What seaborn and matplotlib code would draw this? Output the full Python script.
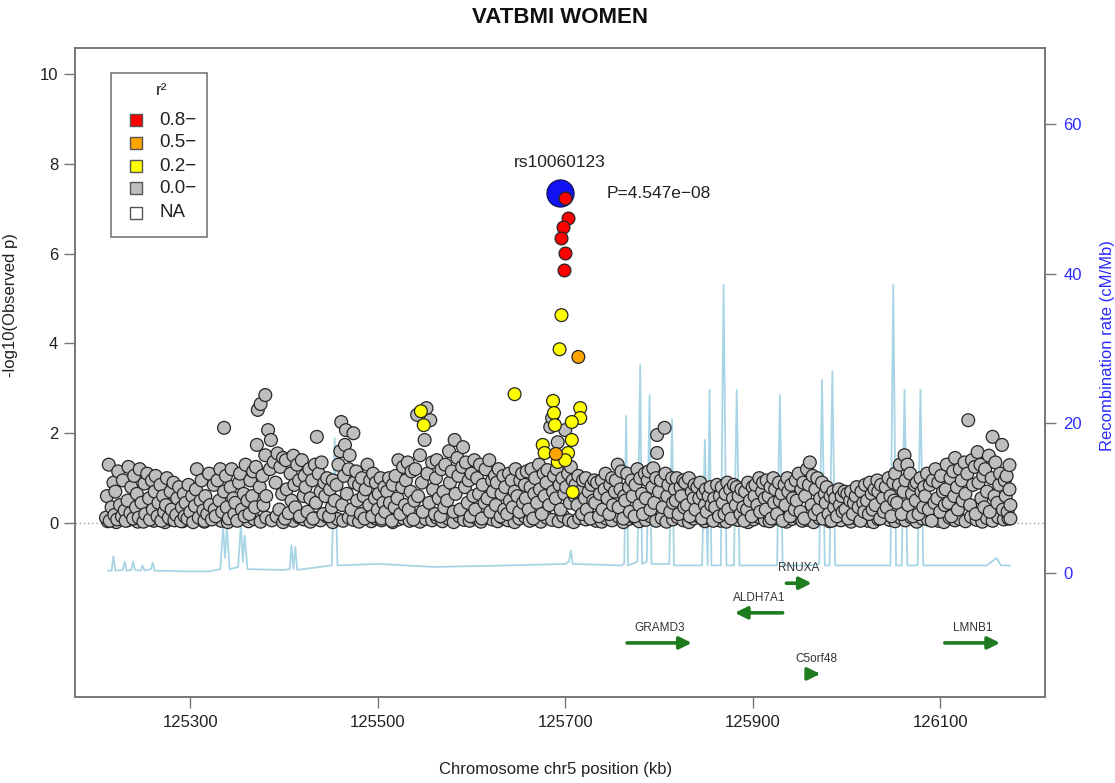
import numpy as np
import pandas as pd
import seaborn as sns
import matplotlib
matplotlib.use("Agg")
import matplotlib.pyplot as plt
from matplotlib.patches import Rectangle

sns.set_theme(style="white")
plt.rcParams["font.family"] = ["Liberation Sans", "DejaVu Sans"]

# ---------------- data ----------------
title = "VATBMI WOMEN"
lead_snp = "rs10060123"
lead_kb = 125694
lead_logp = 7.342
lead_p_text = "P=4.547e\u221208"

red_kb = [125700, 125703, 125698, 125695, 125700, 125699]
red_logp = [7.24, 6.79, 6.59, 6.35, 6.01, 5.63]

orange_kb = [125714, 125690]
orange_logp = [3.70, 1.54]

yellow_kb = [125696, 125694, 125646, 125687, 125716, 125688, 125716, 125707, 125689,
             125707, 125676, 125678, 125703, 125692, 125700, 125708, 125546, 125549]
yellow_logp = [4.63, 3.87, 2.87, 2.72, 2.56, 2.45, 2.34, 2.25, 2.18,
               1.85, 1.74, 1.56, 1.56, 1.36, 1.40, 0.69, 2.49, 2.18]

gray_kb = [
    125210, 125211, 125213, 125214, 125216, 125218, 125219,
    125220, 125222, 125223, 125225, 125227, 125228, 125230,
    125231, 125233, 125234, 125236, 125237, 125239, 125240,
    125242, 125243, 125245, 125246, 125248, 125250, 125251,
    125252, 125254, 125256, 125257, 125259, 125260, 125262,
    125263, 125265, 125266, 125268, 125269, 125271, 125272,
    125274, 125275, 125277, 125279, 125280, 125282, 125283,
    125285, 125286, 125288, 125290, 125291, 125293, 125294,
    125295, 125297, 125298, 125300, 125302, 125303, 125305,
    125306, 125307, 125309, 125311, 125312, 125314, 125315,
    125316, 125318, 125320, 125321, 125323, 125325, 125326,
    125327, 125329, 125331, 125332, 125334, 125336, 125336,
    125338, 125339, 125341, 125343, 125344, 125346, 125347,
    125348, 125350, 125352, 125353, 125355, 125357, 125358,
    125359, 125361, 125363, 125364, 125366, 125367, 125369,
    125370, 125371, 125372, 125374, 125375, 125377, 125378,
    125380, 125380, 125381, 125383, 125385, 125386, 125389,
    125391, 125393, 125395, 125396, 125398, 125399, 125401,
    125402, 125403, 125405, 125407, 125408, 125410, 125411,
    125412, 125414, 125416, 125417, 125419, 125421, 125422,
    125423, 125425, 125427, 125428, 125430, 125431, 125433,
    125434, 125435, 125437, 125439, 125440, 125442, 125443,
    125444, 125446, 125448, 125449, 125451, 125452, 125454,
    125456, 125458, 125460, 125461, 125462, 125464, 125465,
    125466, 125467, 125469, 125470, 125472, 125474, 125475,
    125477, 125478, 125480, 125482, 125483, 125485, 125486,
    125487, 125489, 125491, 125492, 125494, 125495, 125497,
    125498, 125500, 125501, 125503, 125504, 125506, 125507,
    125508, 125510, 125512, 125513, 125515, 125516, 125518,
    125519, 125521, 125522, 125524, 125526, 125527, 125529,
    125530, 125532, 125533, 125535, 125536, 125538, 125539,
    125540, 125542, 125543, 125545, 125547, 125548, 125550,
    125552, 125553, 125555, 125556, 125558, 125559, 125561,
    125562, 125563, 125565, 125567, 125568, 125570, 125571,
    125572, 125574, 125576, 125577, 125579, 125581, 125582,
    125583, 125585, 125586, 125588, 125590, 125591, 125593,
    125594, 125596, 125597, 125599, 125600, 125602, 125603,
    125604, 125606, 125608, 125609, 125611, 125612, 125614,
    125615, 125617, 125619, 125620, 125622, 125623, 125625,
    125626, 125627, 125629, 125631, 125632, 125634, 125635,
    125636, 125638, 125640, 125641, 125643, 125644, 125646,
    125647, 125649, 125651, 125652, 125654, 125655, 125657,
    125658, 125659, 125661, 125663, 125664, 125666, 125667,
    125668, 125670, 125672, 125673, 125675, 125677, 125678,
    125680, 125681, 125683, 125684, 125686, 125687, 125688,
    125690, 125691, 125692, 125694, 125695, 125697, 125699,
    125700, 125701, 125703, 125705, 125706, 125708, 125710,
    125711, 125713, 125714, 125716, 125718, 125719, 125721,
    125722, 125723, 125725, 125727, 125728, 125730, 125731,
    125732, 125734, 125736, 125737, 125739, 125740, 125742,
    125743, 125745, 125747, 125748, 125750, 125751, 125753,
    125754, 125756, 125757, 125759, 125760, 125762, 125763,
    125764, 125766, 125768, 125769, 125771, 125772, 125774,
    125775, 125777, 125779, 125780, 125782, 125783, 125785,
    125786, 125788, 125789, 125791, 125793, 125794, 125795,
    125797, 125798, 125798, 125800, 125802, 125804, 125806,
    125807, 125809, 125810, 125812, 125814, 125815, 125817,
    125818, 125819, 125821, 125823, 125824, 125826, 125827,
    125828, 125830, 125832, 125833, 125835, 125837, 125838,
    125839, 125841, 125843, 125844, 125846, 125847, 125849,
    125850, 125851, 125853, 125855, 125856, 125858, 125859,
    125860, 125862, 125864, 125865, 125867, 125868, 125870,
    125871, 125873, 125874, 125876, 125877, 125879, 125880,
    125882, 125883, 125885, 125887, 125888, 125890, 125891,
    125892, 125894, 125895, 125897, 125899, 125900, 125902,
    125903, 125905, 125907, 125908, 125910, 125911, 125913,
    125914, 125915, 125917, 125919, 125920, 125922, 125923,
    125924, 125926, 125928, 125929, 125931, 125932, 125934,
    125935, 125937, 125938, 125940, 125941, 125943, 125945,
    125946, 125947, 125949, 125951, 125952, 125954, 125955,
    125956, 125958, 125960, 125961, 125963, 125964, 125966,
    125967, 125969, 125970, 125972, 125974, 125975, 125977,
    125978, 125979, 125981, 125983, 125984, 125986, 125987,
    125988, 125990, 125992, 125993, 125995, 125996, 125998,
    125999, 126001, 126002, 126004, 126005, 126007, 126008,
    126010, 126011, 126013, 126015, 126016, 126018, 126019,
    126020, 126022, 126024, 126025, 126027, 126028, 126030,
    126031, 126033, 126034, 126036, 126037, 126039, 126040,
    126042, 126043, 126045, 126047, 126048, 126050, 126051,
    126052, 126054, 126056, 126057, 126059, 126061, 126062,
    126063, 126065, 126066, 126068, 126070, 126071, 126073,
    126074, 126075, 126077, 126079, 126080, 126082, 126083,
    126084, 126086, 126088, 126089, 126091, 126092, 126094,
    126095, 126097, 126098, 126100, 126101, 126103, 126105,
    126106, 126107, 126109, 126111, 126112, 126114, 126115,
    126116, 126118, 126119, 126121, 126123, 126124, 126126,
    126127, 126129, 126130, 126132, 126134, 126135, 126137,
    126138, 126140, 126141, 126143, 126144, 126146, 126147,
    126148, 126150, 126152, 126153, 126155, 126156, 126158,
    126159, 126161, 126163, 126164, 126166, 126167, 126169,
    126170, 126171, 126172, 126174, 126174, 126175, 126175,
]
gray_logp = [
    0.12, 0.60, 1.30, 0.05, 0.35, 0.90, 0.18,
    0.70, 0.08, 1.15, 0.40, 0.15, 0.95, 0.28,
    0.05, 0.50, 1.25, 0.22, 0.80, 0.10, 1.05,
    0.35, 0.65, 0.12, 1.20, 0.45, 0.03, 0.88,
    0.20, 1.10, 0.55, 0.08, 0.95, 0.30, 0.70,
    1.05, 0.15, 0.45, 0.85, 0.05, 0.60, 0.25,
    0.40, 1.00, 0.12, 0.70, 0.30, 0.90, 0.06,
    0.18, 0.55, 0.80, 0.04, 0.35, 0.65, 0.15,
    0.45, 0.10, 0.85, 0.25, 0.60, 0.02, 0.38,
    0.75, 1.20, 0.12, 0.50, 0.95, 0.28, 0.05,
    0.60, 0.20, 1.10, 0.40, 0.08, 0.85, 0.30,
    0.15, 0.95, 0.50, 1.20, 0.25, 2.12, 0.70,
    1.05, 0.35, 0.10, 0.80, 1.20, 0.55, 0.20,
    0.45, 0.05, 0.90, 1.10, 0.30, 0.65, 0.15,
    1.30, 0.50, 0.20, 0.95, 0.60, 1.15, 0.35,
    1.25, 1.74, 2.52, 0.80, 2.65, 1.05, 0.40,
    2.85, 1.51, 0.60, 2.07, 1.20, 1.85, 1.36,
    0.90, 1.55, 0.30, 1.25, 0.65, 1.45, 0.10,
    1.40, 0.75, 0.22, 1.10, 0.50, 1.50, 0.85,
    0.35, 1.30, 0.95, 0.15, 1.40, 0.60, 1.05,
    0.80, 0.25, 1.20, 0.55, 0.95, 0.10, 1.30,
    0.45, 1.92, 1.10, 0.70, 1.35, 0.20, 0.90,
    0.60, 1.00, 0.15, 0.75, 0.35, 0.95, 0.50,
    0.85, 1.30, 1.60, 2.25, 0.40, 1.05, 1.74,
    2.07, 0.65, 1.20, 1.51, 0.30, 2.00, 0.90,
    1.15, 0.50, 0.85, 0.20, 1.00, 0.60, 0.10,
    0.75, 1.30, 0.40, 0.95, 0.15, 1.10, 0.55,
    0.90, 0.30, 0.65, 1.00, 0.10, 0.45, 0.80,
    0.25, 0.70, 1.00, 0.45, 0.05, 0.85, 0.35,
    1.05, 0.55, 1.40, 0.20, 0.80, 1.25, 0.40,
    0.95, 1.35, 0.30, 0.70, 1.15, 0.08, 0.50,
    1.20, 2.41, 0.60, 1.51, 0.90, 0.25, 1.85,
    2.56, 1.10, 0.45, 2.29, 1.35, 0.75, 0.20,
    1.00, 1.40, 0.55, 0.15, 1.20, 0.70, 0.35,
    1.30, 0.50, 1.60, 0.90, 1.15, 0.25, 1.85,
    0.65, 1.45, 1.05, 0.30, 1.25, 1.69, 0.80,
    1.35, 0.45, 0.95, 0.15, 1.10, 0.60, 1.40,
    0.30, 1.00, 0.65, 1.30, 0.10, 0.85, 0.45,
    1.20, 0.55, 1.40, 0.25, 0.95, 0.70, 1.05,
    0.40, 0.90, 1.20, 0.15, 0.65, 1.05, 0.30,
    0.80, 0.20, 1.10, 0.50, 0.95, 0.35, 0.70,
    1.20, 0.60, 0.25, 0.95, 1.10, 0.45, 0.85,
    0.55, 1.15, 0.30, 0.80, 1.20, 0.10, 0.65,
    1.00, 0.45, 1.30, 0.75, 0.20, 1.10, 0.60,
    0.90, 1.18, 0.40, 2.14, 2.34, 0.70, 1.05,
    0.55, 1.20, 1.80, 0.85, 0.30, 1.00, 0.65,
    2.07, 0.80, 1.10, 0.45, 1.25, 0.95, 0.60,
    0.85, 0.40, 1.05, 0.70, 0.20, 0.95, 0.55,
    1.00, 0.30, 0.70, 0.10, 0.85, 0.50, 0.95,
    0.45, 0.90, 0.15, 0.65, 0.95, 0.30, 0.75,
    1.10, 0.55, 0.20, 0.85, 1.00, 0.40, 0.70,
    0.95, 1.30, 0.35, 0.75, 1.15, 0.10, 0.60,
    0.50, 1.10, 0.80, 0.25, 0.95, 0.60, 0.15,
    0.85, 1.20, 0.40, 1.00, 0.65, 0.20, 1.10,
    0.55, 0.95, 1.15, 0.30, 0.80, 1.22, 0.45,
    1.00, 1.96, 1.56, 0.70, 0.95, 0.35, 2.12,
    1.10, 0.60, 0.85, 0.25, 1.00, 0.45, 0.75,
    0.50, 1.00, 0.20, 0.80, 0.60, 0.95, 0.35,
    0.90, 0.40, 1.00, 0.15, 0.70, 0.55, 0.85,
    0.30, 0.80, 0.55, 0.90, 0.10, 0.65, 0.40,
    0.75, 0.25, 0.60, 0.80, 0.40, 0.05, 0.55,
    0.35, 0.85, 0.15, 0.60, 0.80, 0.45, 0.20,
    0.65, 0.90, 0.30, 0.75, 0.10, 0.55, 0.85,
    0.40, 0.80, 0.60, 0.20, 0.75, 0.35, 0.05,
    0.70, 0.30, 0.90, 0.50, 0.15, 0.80, 0.60,
    0.85, 0.40, 1.00, 0.25, 0.70, 0.90, 0.55,
    0.30, 0.95, 0.60, 0.80, 0.10, 1.00, 0.45,
    0.75, 0.20, 0.90, 0.50, 0.65, 0.05, 0.85,
    0.40, 1.00, 0.70, 0.15, 0.85, 0.55, 0.30,
    0.95, 0.50, 1.10, 0.25, 0.75, 0.90, 0.10,
    0.60, 1.20, 0.85, 1.35, 0.40, 1.05, 0.20,
    0.75, 1.00, 0.30, 0.55, 0.90, 0.10, 0.65,
    0.45, 0.80, 0.20, 0.60, 0.05, 0.70, 0.35,
    0.55, 0.15, 0.75, 0.40, 0.60, 0.25, 0.70,
    0.30, 0.65, 0.10, 0.50, 0.70, 0.20, 0.45,
    0.60, 0.80, 0.35, 0.05, 0.70, 0.45, 0.25,
    0.85, 0.50, 0.20, 0.90, 0.65, 0.30, 0.75,
    0.40, 0.95, 0.70, 0.10, 0.85, 0.55, 0.25,
    0.80, 0.35, 1.00, 0.60, 0.15, 0.90, 0.50,
    1.10, 0.45, 0.85, 1.30, 0.20, 0.70, 1.51,
    0.95, 1.30, 0.40, 1.10, 0.65, 0.15, 0.85,
    0.50, 0.90, 0.20, 1.00, 0.70, 0.35, 0.80,
    0.60, 1.10, 0.30, 0.85, 0.05, 0.95, 0.45,
    1.20, 0.55, 0.90, 0.25, 1.05, 0.70, 0.40,
    0.75, 1.30, 0.45, 1.00, 0.15, 1.15, 0.60,
    1.45, 0.80, 0.30, 1.20, 0.95, 0.50, 1.35,
    0.65, 1.10, 2.29, 0.40, 1.40, 0.85, 1.25,
    0.20, 1.58, 0.90, 1.30, 0.55, 1.05, 0.35,
    1.20, 0.70, 1.50, 0.25, 1.00, 1.92, 0.60,
    1.35, 0.45, 0.85, 1.10, 1.74, 0.30, 0.95,
    0.60, 1.05, 0.25, 1.29, 0.75, 0.40, 0.10,
]

# weakly associated SNPs hugging the baseline
low_kb = [125212, 125216, 125221, 125226, 125233, 125238, 125244, 125249, 125255, 125261,
          125268, 125273, 125279, 125286, 125292, 125297, 125304, 125309, 125315, 125322,
          125328, 125333, 125340, 125345, 125351, 125357, 125362, 125368, 125375, 125381,
          125387, 125392, 125399, 125404, 125410, 125416, 125421, 125428, 125434, 125439,
          125446, 125452, 125457, 125463, 125469, 125474, 125480, 125487, 125493, 125498,
          125504, 125511, 125516, 125522, 125527, 125534, 125540, 125545, 125551, 125558,
          125563, 125569, 125575, 125581, 125587, 125592, 125598, 125605, 125610, 125616,
          125622, 125628, 125633, 125639, 125646, 125651, 125657, 125662, 125669, 125674,
          125680, 125686, 125693, 125698, 125704, 125709, 125715, 125722, 125727, 125733,
          125739, 125744, 125750, 125757, 125762, 125768, 125774, 125779, 125786, 125791,
          125797, 125803, 125808, 125815, 125820, 125826, 125832, 125837, 125843, 125849,
          125855, 125861, 125866, 125872, 125878, 125884, 125890, 125895, 125901, 125907,
          125913, 125918, 125924, 125930, 125936, 125942, 125947, 125953, 125959, 125965,
          125971, 125976, 125982, 125988, 125994, 126000, 126005, 126011, 126017, 126023,
          126029, 126034, 126040, 126046, 126052, 126058, 126063, 126069, 126075, 126081,
          126087, 126092, 126098, 126104, 126110, 126116, 126121, 126127, 126133, 126139,
          126145, 126150, 126156, 126162, 126168, 126173]
low_logp = [0.04, 0.10, 0.02, 0.15, 0.06, 0.12, 0.03, 0.09, 0.14, 0.05,
            0.11, 0.02, 0.08, 0.13, 0.04, 0.10, 0.06, 0.15, 0.03, 0.09,
            0.12, 0.05, 0.02, 0.11, 0.07, 0.14, 0.04, 0.09, 0.03, 0.12,
            0.06, 0.15, 0.02, 0.10, 0.05, 0.13, 0.08, 0.03, 0.11, 0.06,
            0.14, 0.02, 0.09, 0.05, 0.12, 0.07, 0.03, 0.15, 0.04, 0.10,
            0.06, 0.13, 0.02, 0.08, 0.11, 0.05, 0.14, 0.03, 0.09, 0.06,
            0.12, 0.04, 0.10, 0.02, 0.15, 0.07, 0.05, 0.11, 0.03, 0.13,
            0.08, 0.04, 0.12, 0.06, 0.02, 0.10, 0.14, 0.05, 0.09, 0.03,
            0.12, 0.07, 0.04, 0.15, 0.06, 0.02, 0.11, 0.08, 0.13, 0.05,
            0.03, 0.10, 0.06, 0.14, 0.02, 0.09, 0.12, 0.04, 0.07, 0.15,
            0.05, 0.11, 0.03, 0.08, 0.13, 0.06, 0.02, 0.10, 0.14, 0.04,
            0.09, 0.12, 0.05, 0.03, 0.11, 0.07, 0.15, 0.02, 0.08, 0.13,
            0.06, 0.04, 0.10, 0.12, 0.03, 0.09, 0.14, 0.05, 0.07, 0.02,
            0.11, 0.13, 0.04, 0.08, 0.06, 0.15, 0.03, 0.10, 0.12, 0.05,
            0.02, 0.09, 0.14, 0.07, 0.04, 0.11, 0.06, 0.13, 0.03, 0.10,
            0.08, 0.15, 0.05, 0.02, 0.12, 0.06, 0.09, 0.04, 0.14, 0.07,
            0.03, 0.11, 0.05, 0.13, 0.08, 0.10]

# recombination rate track (cM/Mb)
recomb_kb = [125212, 125216, 125218, 125220, 125228, 125230, 125232, 125237, 125239, 125241,
             125247, 125249, 125251, 125258, 125260, 125262, 125300, 125320, 125332, 125335,
             125337, 125339, 125342, 125351, 125354, 125356, 125358, 125361, 125400, 125406,
             125408, 125410, 125412, 125414, 125451, 125454, 125457, 125500, 125560, 125640,
             125700, 125704, 125706, 125708, 125760, 125763, 125765, 125767, 125777, 125780,
             125782, 125787, 125790, 125792, 125811, 125814, 125816, 125846, 125849, 125852,
             125854, 125856, 125866, 125869, 125872, 125880, 125883, 125886, 125926, 125929,
             125932, 125960, 125971, 125974, 125977, 125982, 125985, 125988, 126047, 126050,
             126053, 126059, 126062, 126065, 126076, 126079, 126082, 126100, 126150, 126160,
             126165, 126175]
recomb_rate = [0.3, 0.3, 2.2, 0.3, 0.4, 1.5, 0.3, 0.4, 1.5, 0.4,
               0.3, 1.0, 0.3, 0.5, 1.4, 0.3, 0.2, 0.2, 0.5, 6.3,
               2.0, 6.0, 0.5, 0.8, 6.5, 1.5, 5.0, 0.5, 0.4, 0.5,
               3.7, 0.5, 3.5, 0.4, 1.0, 18.0, 1.0, 1.2, 0.8, 1.0,
               1.2, 1.5, 3.0, 1.2, 1.0, 1.2, 21.0, 1.0, 1.5, 27.8,
               1.2, 1.5, 23.8, 1.2, 1.2, 20.5, 1.0, 1.0, 17.8, 1.0,
               24.5, 1.0, 1.0, 38.5, 1.0, 1.0, 24.5, 1.0, 1.0, 23.8,
               1.0, 1.0, 1.2, 25.8, 1.0, 1.0, 27.0, 1.0, 1.0, 38.5,
               1.0, 1.0, 24.5, 1.0, 1.0, 24.5, 1.0, 1.0, 1.0, 2.0,
               1.0, 1.0]

# genes: start, end (arrow direction = start -> end), track level
gene_names = ["GRAMD3", "ALDH7A1", "RNUXA", "C5orf48", "LMNB1"]
gene_start = [125766, 125932, 125936, 125964, 126105]
gene_end = [125835, 125881, 125963, 125972, 126164]
gene_row = [-2.67, -2.0, -1.34, -3.36, -2.67]

ld_levels = ["0.8\u2212", "0.5\u2212", "0.2\u2212", "0.0\u2212", "NA"]
ld_colors = ["#FF0000", "#FFA500", "#FFFF00", "#BEBEBE", "#FFFFFF"]

# ---------------- figure ----------------
fig = plt.figure(figsize=(11.15, 7.83), dpi=100)
ax = fig.add_axes([0.0673, 0.1098, 0.8700, 0.8289])
ax2 = ax.twinx()
ax.set_zorder(ax2.get_zorder() + 1)
ax.patch.set_visible(False)

rec_df = pd.DataFrame({"kb": recomb_kb, "rate": recomb_rate})
sns.lineplot(data=rec_df, x="kb", y="rate", ax=ax2, color="#A8D5E5",
             lw=1.3, sort=False, estimator=None)

snps = pd.concat([
    pd.DataFrame({"kb": low_kb, "logp": low_logp, "ld": ld_levels[3]}),
    pd.DataFrame({"kb": gray_kb, "logp": gray_logp, "ld": ld_levels[3]}),
    pd.DataFrame({"kb": yellow_kb, "logp": yellow_logp, "ld": ld_levels[2]}),
    pd.DataFrame({"kb": orange_kb, "logp": orange_logp, "ld": ld_levels[1]}),
], ignore_index=True)
palette = dict(zip(ld_levels, ld_colors))

ax.axhline(0, color="#9a9a9a", ls=(0, (1, 2)), lw=1, zorder=0)
sns.scatterplot(data=snps, x="kb", y="logp", hue="ld", palette=palette,
                s=85, edgecolor="#262626", linewidth=0.9, legend=False, ax=ax, zorder=3)
sns.scatterplot(x=[lead_kb], y=[lead_logp], color="#1212F5", s=380,
                edgecolor="#10105A", linewidth=0.9, legend=False, ax=ax, zorder=4)
sns.scatterplot(x=red_kb, y=red_logp, color="#FF0000", s=85,
                edgecolor="#262626", linewidth=0.9, legend=False, ax=ax, zorder=5)

ax.text(lead_kb, 8.02, lead_snp, ha="center", va="center", fontsize=12.5, color="#222222")
ax.text(lead_kb + 50, lead_logp, lead_p_text, ha="left", va="center", fontsize=12.5, color="#222222")

green = "#1E7B1E"
for name, s, e, r in zip(gene_names, gene_start, gene_end, gene_row):
    ax.annotate("", xy=(e, r), xytext=(s, r),
                arrowprops=dict(arrowstyle="-|>,head_length=0.6,head_width=0.3",
                                color=green, lw=2.6, shrinkA=0, shrinkB=0))
    ax.text((s + e) / 2, r + 0.33, name, ha="center", va="center", fontsize=8.5, color="#333333")

ax.set_xlim(125177, 126212)
ax.set_ylim(-3.875, 10.58)
ax2.set_ylim(-16.6, 70.2)
xt = [125300, 125500, 125700, 125900, 126100]
ax.set_xticks(xt)
ax.set_xticklabels([str(t) for t in xt])
ax.set_yticks([0, 2, 4, 6, 8, 10])
ax2.set_yticks([0, 20, 40, 60])

ax.set_title(title, fontsize=16, fontweight="bold", color="#111111", pad=18)
ax.set_xlabel("Chromosome chr5 position (kb)", fontsize=12, color="#222222")
ax.set_ylabel("-log10(Observed p)", fontsize=12, color="#222222")
ax2.set_ylabel("Recombination rate (cM/Mb)", fontsize=12, color="#2B2BFF")
ax.xaxis.set_label_coords(0.495, -0.100)
ax.yaxis.set_label_coords(-0.059, 0.604)
ax2.yaxis.set_label_coords(1.057, 0.542)

for a in (ax, ax2):
    for sp in a.spines.values():
        sp.set_color("#777777")
        sp.set_linewidth(1.2)
ax.tick_params(axis="both", direction="out", length=8, width=1, color="#777777",
               labelsize=12, labelcolor="#222222", left=True, bottom=True)
ax.tick_params(axis="y", pad=4)
ax.tick_params(axis="x", pad=5)
ax2.tick_params(axis="y", direction="out", length=8, width=1, color="#777777",
                labelsize=12, labelcolor="#2B2BFF", pad=5, right=True)
ax.grid(False)
ax2.grid(False)

# r^2 key, drawn in axes coordinates
ax.add_patch(Rectangle((0.0371, 0.7088), 0.099, 0.2527, transform=ax.transAxes,
                       facecolor="white", edgecolor="#777777", lw=1.2, zorder=6))
ax.text(0.0897, 0.935, "r²", transform=ax.transAxes, ha="center", va="center",
        fontsize=12.5, color="#222222", zorder=7)
row_y = [0.889, 0.854, 0.818, 0.784, 0.746]
for lab, c, yy in zip(ld_levels, ld_colors, row_y):
    ax.add_patch(Rectangle((0.0568, yy - 0.0092), 0.0124, 0.0185, transform=ax.transAxes,
                           facecolor=c, edgecolor="#555555", lw=1.0, zorder=7))
    ax.text(0.0866, yy, lab, transform=ax.transAxes, ha="left", va="center",
            fontsize=13.5, color="#222222", zorder=7)

fig.savefig("out.png", dpi=100)
